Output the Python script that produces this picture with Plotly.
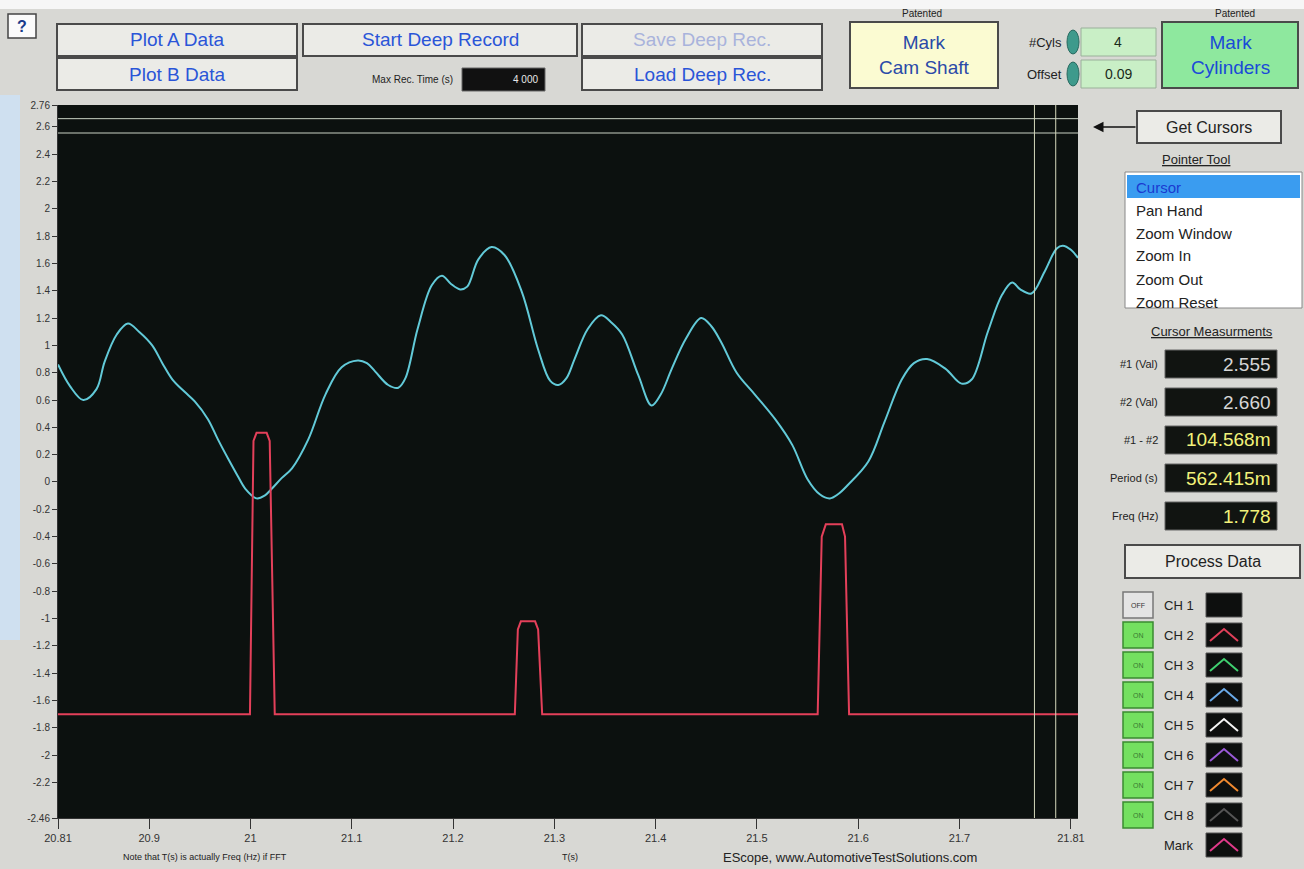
import plotly.graph_objects as go

# Data
t_ch4 = [20.810, 20.822, 20.835, 20.848, 20.856, 20.868, 20.879, 20.890, 20.903, 20.913,
         20.923, 20.935, 20.945, 20.958, 20.968, 20.978, 20.987, 20.995, 21.006, 21.014,
         21.021, 21.031, 21.041, 21.057, 21.074, 21.090, 21.106, 21.115, 21.123, 21.136,
         21.146, 21.153, 21.165, 21.179, 21.189, 21.198, 21.207, 21.214, 21.225, 21.238,
         21.251, 21.268, 21.284, 21.296, 21.304, 21.312, 21.320, 21.333, 21.346, 21.356,
         21.367, 21.383, 21.396, 21.405, 21.416, 21.430, 21.445, 21.455, 21.465, 21.480,
         21.498, 21.518, 21.535, 21.550, 21.562, 21.572, 21.580, 21.590, 21.610, 21.626,
         21.643, 21.655, 21.668, 21.686, 21.702, 21.712, 21.728, 21.742, 21.752, 21.760,
         21.771, 21.784, 21.796, 21.802, 21.810, 21.817]
v_ch4 = [0.86, 0.70, 0.60, 0.68, 0.88, 1.08, 1.16, 1.10, 1.00, 0.87,
         0.75, 0.66, 0.59, 0.46, 0.31, 0.17, 0.05, -0.05, -0.12, -0.10,
         -0.05, 0.03, 0.10, 0.31, 0.64, 0.84, 0.89, 0.87, 0.81, 0.71,
         0.69, 0.76, 1.12, 1.44, 1.51, 1.45, 1.41, 1.43, 1.63, 1.72,
         1.66, 1.39, 0.97, 0.74, 0.71, 0.76, 0.90, 1.12, 1.22, 1.17,
         1.08, 0.78, 0.56, 0.64, 0.83, 1.05, 1.20, 1.14, 1.02, 0.80,
         0.64, 0.46, 0.27, 0.02, -0.09, -0.12, -0.09, -0.02, 0.15, 0.44,
         0.75, 0.87, 0.90, 0.83, 0.72, 0.75, 1.10, 1.37, 1.46, 1.41,
         1.38, 1.54, 1.71, 1.73, 1.70, 1.64]

t_ch2 = [20.810, 20.9995, 21.003, 21.006, 21.016, 21.019, 21.024,
         21.261, 21.264, 21.267, 21.281, 21.284, 21.288,
         21.560, 21.564, 21.568, 21.584, 21.587, 21.591, 21.817]
v_ch2 = [-1.70, -1.70, 0.30, 0.36, 0.36, 0.30, -1.70,
         -1.70, -1.08, -1.02, -1.02, -1.08, -1.70,
         -1.70, -0.40, -0.31, -0.31, -0.40, -1.70, -1.70]

cursor_vals = [2.555, 2.660]
cursor_times = [21.774, 21.795]

x_ticks = [20.81, 20.9, 21, 21.1, 21.2, 21.3, 21.4, 21.5, 21.6, 21.7, 21.81]
x_labels = ["20.81", "20.9", "21", "21.1", "21.2", "21.3", "21.4", "21.5", "21.6", "21.7", "21.81"]
y_ticks = [2.76, 2.6, 2.4, 2.2, 2, 1.8, 1.6, 1.4, 1.2, 1, 0.8, 0.6, 0.4, 0.2, 0,
           -0.2, -0.4, -0.6, -0.8, -1, -1.2, -1.4, -1.6, -1.8, -2, -2.2, -2.46]
y_labels = ["2.76", "2.6", "2.4", "2.2", "2", "1.8", "1.6", "1.4", "1.2", "1", "0.8", "0.6",
            "0.4", "0.2", "0", "-0.2", "-0.4", "-0.6", "-0.8", "-1", "-1.2", "-1.4", "-1.6",
            "-1.8", "-2", "-2.2", "-2.46"]

meas_labels = ["#1 (Val)", "#2 (Val)", "#1 - #2", "Period (s)", "Freq (Hz)"]
meas_values = ["2.555", "2.660", "104.568m", "562.415m", "1.778"]
pointer_items = ["Cursor", "Pan Hand", "Zoom Window", "Zoom In", "Zoom Out", "Zoom Reset"]
channels = ["CH 1", "CH 2", "CH 3", "CH 4", "CH 5", "CH 6", "CH 7", "CH 8", "Mark"]
channel_colors = [None, "#e0405a", "#40d070", "#6aaae8", "#f4f4f4", "#9a5ad8", "#f08a30", "#555555", "#e03a8a"]

FONT = "Liberation Sans"
L, R, T, B = 58, 1078, 105, 818


def px(x):
    return (x - L) / (R - L)


def py(y):
    return (B - y) / (B - T)


shapes = []
annots = []


def rect(x0, y0, x1, y1, fill, line="#555555", w=1.5):
    shapes.append(dict(type="rect", xref="paper", yref="paper", layer="below",
                       x0=px(x0), x1=px(x1), y0=py(y1), y1=py(y0),
                       fillcolor=fill, line=dict(color=line, width=w)))


def text(x, y, s, size=12, color="#222222", xa="center", ya="middle"):
    annots.append(dict(xref="paper", yref="paper", x=px(x), y=py(y), text=s, showarrow=False,
                       xanchor=xa, yanchor=ya, font=dict(family=FONT, size=size, color=color)))


def button(x0, y0, x1, y1, s, fill="#ebebe7", color="#2a55d8", size=19):
    rect(x0, y0, x1, y1, fill, "#4a4a4a", 2)
    text((x0 + x1) / 2, (y0 + y1) / 2, s, size, color)


# page background pieces
rect(0, 0, 1304, 9, "#f6f6f6", "rgba(0,0,0,0)", 0)
rect(0, 95, 20, 640, "#cfe0f0", "rgba(0,0,0,0)", 0)

# top controls
rect(8, 14, 36, 38, "#fbfbfb", "#444444", 1.5)
text(22, 26, "<b>?</b>", 16, "#1a3a8a")
button(57, 24, 297, 56, "Plot A Data")
button(57, 58, 297, 90, "Plot B Data")
button(303, 24, 577, 56, "Start Deep Record")
text(455, 80, "Max Rec. Time (s)", 10, "#222222", xa="right")
rect(462, 68, 545, 91, "#111111", "#666666", 1)
text(540, 80, "4 000", 10, "#e8e8e8", xa="right")
button(582, 24, 822, 56, "Save Deep Rec.", color="#a9b3dc")
button(582, 58, 822, 90, "Load Deep Rec.")
text(922, 14, "Patented", 10, "#222222")
button(850, 22, 998, 88, "Mark<br>Cam Shaft", fill="#fbfbd2", color="#2a4aa8")
text(1064, 42, "#Cyls", 13, "#222222", xa="right")
text(1064, 74, "Offset", 13, "#222222", xa="right")
for cy in (42, 74):
    shapes.append(dict(type="circle", xref="paper", yref="paper", layer="below",
                       x0=px(1067), x1=px(1079), y0=py(cy + 12), y1=py(cy - 12),
                       fillcolor="#3e9a8c", line=dict(color="#2a6a60", width=1)))
rect(1081, 28, 1156, 56, "#c9efc6", "#9ab09a", 1)
rect(1081, 60, 1156, 88, "#c9efc6", "#9ab09a", 1)
text(1118, 42, "4", 14, "#1a2a1a")
text(1118, 74, "0.09", 14, "#1a2a1a")
text(1235, 14, "Patented", 10, "#222222")
button(1162, 22, 1298, 88, "Mark<br>Cylinders", fill="#8ee89e", color="#1a4ad8")

# right panel
button(1137, 111, 1281, 143, "Get Cursors", color="#222222", size=16)
annots.append(dict(xref="paper", yref="paper", x=px(1093), y=py(127), ax=44, ay=0, text="",
                   showarrow=True, arrowhead=2, arrowsize=1.4, arrowwidth=1.5, arrowcolor="#111111"))
text(1196, 159, "<u>Pointer Tool</u>", 13, "#222222")
rect(1125, 172, 1302, 308, "#ffffff", "#888888", 1)
rect(1127, 175, 1300, 198, "#3a9cf0", "rgba(0,0,0,0)", 0)
for i, item in enumerate(pointer_items):
    text(1134, 187 + 23 * i, item, 15, "#1a3ad0" if i == 0 else "#222222", xa="left")

text(1212, 331, "<u>Cursor Measurments</u>", 13, "#222222")
for i, (lab, val) in enumerate(zip(meas_labels, meas_values)):
    cy = 364 + 38 * i
    text(1160, cy, lab, 11, "#222222", xa="right")
    rect(1165, cy - 14, 1277, cy + 14, "#111411", "#666666", 1)
    text(1273, cy, val, 19, "#d6d6d6" if i < 2 else "#f2f27a", xa="right")

button(1125, 545, 1300, 578, "Process Data", color="#222222", size=16)
for i, (ch, col) in enumerate(zip(channels, channel_colors)):
    cy = 605 + 30 * i
    if i < 8:
        if i == 0:
            rect(1123, cy - 13, 1153, cy + 13, "#e4e4e4", "#777777", 1.5)
            text(1138, cy, "OFF", 7, "#333333")
        else:
            rect(1123, cy - 13, 1153, cy + 13, "#74e060", "#3a8a30", 1.5)
            text(1138, cy, "ON", 7, "#3a7a30")
    text(1162, cy, ch, 13, "#222222", xa="left")
    rect(1206, cy - 12, 1242, cy + 12, "#0d0f0e", "#555555", 1)
    if col:
        shapes.append(dict(type="path", xref="paper", yref="paper", layer="above",
                           path=f"M {px(1210)} {py(cy + 6)} L {px(1224)} {py(cy - 6)} L {px(1238)} {py(cy + 6)}",
                           line=dict(color=col, width=2)))

# bottom notes
text(205, 857, "Note that T(s) is actually Freq (Hz) if FFT", 9, "#222222")
text(570, 857, "T(s)", 9, "#222222")
text(850, 857, "EScope, www.AutomotiveTestSolutions.com", 13, "#222222")

fig = go.Figure()
fig.update_layout(
    width=1304, height=869,
    margin=dict(l=L, r=1304 - R, t=T, b=869 - B),
    paper_bgcolor="#d8d8d4",
    plot_bgcolor="#0c110f",
    showlegend=False,
    shapes=shapes,
    annotations=annots,
    xaxis=dict(range=[20.81, 21.817], tickvals=x_ticks, ticktext=x_labels, ticks="outside",
               ticklen=10, tickcolor="#333333", showgrid=False, zeroline=False,
               showline=True, linecolor="#333333",
               tickfont=dict(family=FONT, size=11, color="#333333")),
    yaxis=dict(range=[-2.46, 2.76], tickvals=y_ticks, ticktext=y_labels, ticks="outside",
               ticklen=5, tickcolor="#333333", showgrid=False, zeroline=False,
               showline=True, linecolor="#333333",
               tickfont=dict(family=FONT, size=10, color="#333333")),
)

fig.add_trace(go.Scatter(x=t_ch4, y=v_ch4, mode="lines", line=dict(color="#62cad8", width=2, shape="spline"),
                         name="CH 4", hoverinfo="skip"))
fig.add_trace(go.Scatter(x=t_ch2, y=v_ch2, mode="lines", line=dict(color="#e4405a", width=2),
                         name="CH 2", hoverinfo="skip"))

# cursor lines
for v in cursor_vals:
    fig.add_hline(y=v, line=dict(color="#c9d2c4", width=1))
for t in cursor_times:
    fig.add_vline(x=t, line=dict(color="#d4d8bc", width=1))

fig.write_html("out.html", config={"displayModeBar": False},
               post_script="document.body.style.margin='0';document.body.style.overflow='hidden';")
